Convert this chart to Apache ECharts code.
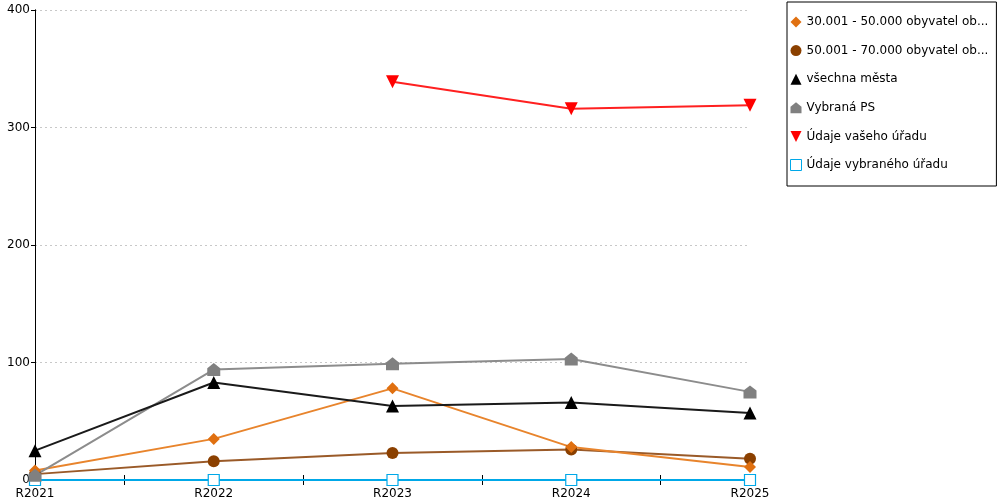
<!DOCTYPE html>
<html>
<head>
<meta charset="utf-8">
<script src="https://cdn.jsdelivr.net/npm/echarts@6/dist/echarts.min.js"></script>
<style>
html, body { margin: 0; padding: 0; background: #fff; }
#container { width: 1000px; height: 500px; }
</style>
</head>
<body>
<div id="container"></div>
<script>
var categories = ['R2021', 'R2022', 'R2023', 'R2024', 'R2025'];
var names = ['30.001 - 50.000 obyvatel obcí a měst', '50.001 - 70.000 obyvatel obcí a měst', 'všechna města', 'Vybraná PS', 'Údaje vašeho úřadu', 'Údaje vybraného úřadu'];
var obce30 = [8, 35, 78, 28, 11];
var obce50 = [5, 16, 23, 26, 18];
var vsechna = [25, 83, 63, 66, 57];
var vybranaPS = [4, 94, 99, 103, 75];
var vasUrad = [null, null, 339, 316, 319];
var vybranyUrad = [0, 0, 0, 0, 0];
var yTicks = [0, 100, 200, 300, 400];

var housePath = 'path://M5,0 L10,4 L10,10 L0,10 L0,4 Z';
var downTri = 'path://M0,0 L10,0 L5,10 Z';

function pts(arr) {
    return arr.map(function (v, i) { return [i, v]; });
}

var dom = document.getElementById('container');
var myChart = echarts.init(dom);
var font = 'DejaVu Sans';

function mkSeries(name, data, lineColor, markColor, symbol, size, extra) {
    var s = {
        name: name,
        type: 'line',
        data: pts(data),
        symbol: symbol,
        symbolSize: size,
        lineStyle: { color: lineColor, width: 2 },
        itemStyle: { color: markColor },
        emphasis: { disabled: true },
        animation: false
    };
    if (extra) { for (var k in extra) { s[k] = extra[k]; } }
    return s;
}

var option = {
    textStyle: { fontFamily: font },
    grid: { left: 35, right: 250, top: 10, bottom: 20 },
    legend: {
        orient: 'vertical',
        left: 787,
        top: 2,
        padding: [14, 8, 15, 3],
        itemGap: 16.6,
        itemWidth: 11,
        itemHeight: 11,
        borderColor: '#000',
        borderWidth: 1,
        textStyle: { fontFamily: font, fontSize: 12, color: '#000', width: 188, overflow: 'truncate', ellipsis: '...' },
        data: [
            { name: names[0], icon: 'diamond' },
            { name: names[1], icon: 'circle' },
            { name: names[2], icon: 'triangle' },
            { name: names[3], icon: housePath },
            { name: names[4], icon: downTri },
            { name: names[5], icon: 'rect', itemStyle: { color: '#fff', borderColor: '#00a8e8', borderWidth: 1 } }
        ]
    },
    xAxis: [{
        type: 'value',
        min: 0, max: 4, interval: 0.5,
        axisLine: { lineStyle: { color: '#000' } },
        axisTick: { show: true, length: 5, lineStyle: { color: '#000' } },
        axisLabel: {
            color: '#000', fontSize: 12, margin: 8,
            formatter: function (v) { return v % 1 === 0 ? categories[v] : ''; }
        },
        splitLine: { show: false }
    }, {
        type: 'value',
        min: 0, max: 4, interval: 0.5,
        position: 'bottom',
        axisLine: { show: false },
        axisTick: { show: true, inside: true, length: 5, lineStyle: { color: '#000' } },
        axisLabel: { show: false },
        splitLine: { show: false }
    }],
    yAxis: [{
        type: 'value',
        min: yTicks[0], max: yTicks[yTicks.length - 1], interval: 100,
        axisLine: { show: true, lineStyle: { color: '#000' } },
        axisTick: { show: true, length: 4, lineStyle: { color: '#000' } },
        axisLabel: { color: '#000', fontSize: 12, margin: 5 },
        splitLine: { show: true, lineStyle: { color: '#c8c8c8', type: [2, 3] } }
    }, {
        type: 'value',
        position: 'right',
        min: yTicks[0], max: yTicks[yTicks.length - 1], interval: 100,
        axisLine: { show: true, lineStyle: { color: '#000' } },
        axisTick: { show: false },
        axisLabel: { show: false },
        splitLine: { show: false }
    }],
    series: [
        mkSeries(names[5], vybranyUrad, '#00a8e8', '#00a8e8', 'rect', 11, {
            itemStyle: { color: '#fff', borderColor: '#00a8e8', borderWidth: 1.2 }, lineStyle: { color: '#00a8e8', width: 2 }, z: 1
        }),
        mkSeries(names[1], obce50, '#9a5a28', '#8b4000', 'circle', 12),
        mkSeries(names[0], obce30, '#e8842c', '#e07010', 'diamond', 12),
        mkSeries(names[3], vybranaPS, '#8c8c8c', '#808080', housePath, 13),
        mkSeries(names[2], vsechna, '#1a1a1a', '#000', 'triangle', 13),
        mkSeries(names[4], vasUrad, '#ff2020', '#ff0000', downTri, 13)
    ]
};
myChart.setOption(option);
</script>
</body>
</html>
